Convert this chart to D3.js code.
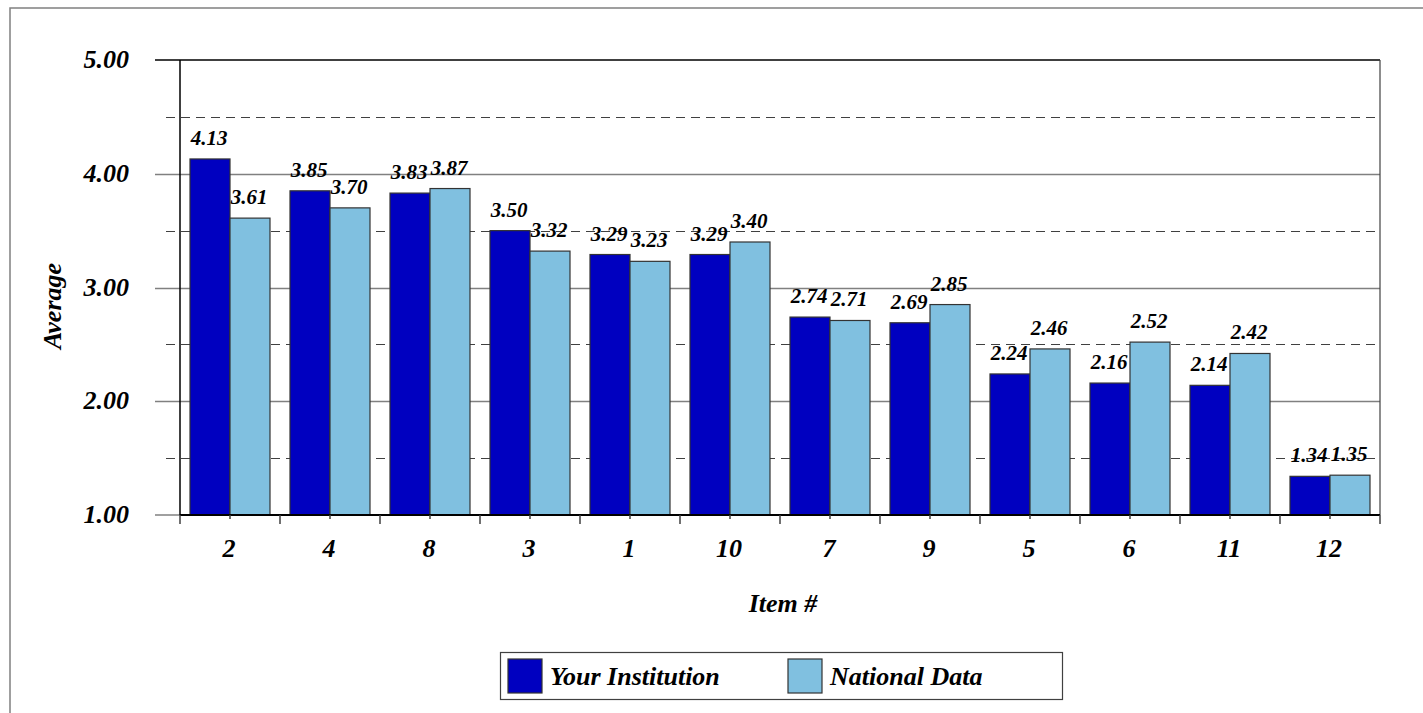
<!DOCTYPE html>
<html><head><meta charset="utf-8">
<script src="https://cdn.jsdelivr.net/npm/d3@7"></script>
<style>
body{margin:0;background:#fff;}
text{font-family:"Liberation Serif","Times New Roman",Times,serif;font-weight:bold;font-style:italic;fill:#000;}
</style></head>
<body>
<svg id="chart" width="1423" height="713"></svg>
<script>
const categories = ["2","4","8","3","1","10","7","9","5","6","11","12"];
const yourInstitution = [4.13,3.85,3.83,3.50,3.29,3.29,2.74,2.69,2.24,2.16,2.14,1.34];
const nationalData = [3.61,3.70,3.87,3.32,3.23,3.40,2.71,2.85,2.46,2.52,2.42,1.35];
const seriesNames = ["Your Institution","National Data"];
const seriesColors = ["#0000C0","#80C0E0"];
const majorTicks = [1,2,3,4,5];
const minorTicks = [1.5,2.5,3.5,4.5];

const svg = d3.select("#chart");
const L = 180, R = 1380, T = 60, B = 515;

// outer frame
svg.append("rect").attr("x",10).attr("y",8).attr("width",1430).attr("height",720)
  .attr("fill","none").attr("stroke","#808080").attr("stroke-width",1.5);

const x = d3.scaleBand().domain(categories).range([L,R]).paddingInner(0).paddingOuter(0);
const xs = d3.scaleBand().domain(seriesNames).range([10,90]);
const y = d3.scaleLinear().domain([1,5]).range([B,T]);

// gridlines
svg.append("g").selectAll("line").data(majorTicks.filter(d=>d>1 && d<5)).join("line")
  .attr("x1",155).attr("x2",R).attr("y1",d=>Math.round(y(d))+0.5).attr("y2",d=>Math.round(y(d))+0.5)
  .attr("stroke","#808080").attr("stroke-width",1.5);
svg.append("g").selectAll("line").data(minorTicks).join("line")
  .attr("x1",166).attr("x2",R).attr("y1",d=>Math.round(y(d))+0.5).attr("y2",d=>Math.round(y(d))+0.5)
  .attr("stroke","#404040").attr("stroke-width",1.2).attr("stroke-dasharray","9,6");
svg.append("line").attr("x1",155).attr("x2",L).attr("y1",B).attr("y2",B).attr("stroke","#808080").attr("stroke-width",1.5);
svg.append("line").attr("x1",155).attr("x2",R).attr("y1",T).attr("y2",T).attr("stroke","#000").attr("stroke-width",1.5);
svg.append("line").attr("x1",R).attr("x2",R).attr("y1",T).attr("y2",B).attr("stroke","#404040").attr("stroke-width",1.2);

// bars
const data = categories.map((c,i)=>({cat:c, vals:[yourInstitution[i], nationalData[i]]}));
const groups = svg.append("g").selectAll("g").data(data).join("g")
  .attr("transform",d=>`translate(${x(d.cat)},0)`);
groups.selectAll("rect").data(d=>d.vals.map((v,j)=>({v,j}))).join("rect")
  .attr("x",d=>xs(seriesNames[d.j])).attr("width",xs.bandwidth())
  .attr("y",d=>y(d.v)).attr("height",d=>B-y(d.v))
  .attr("fill",d=>seriesColors[d.j]).attr("stroke","#333").attr("stroke-width",1.2);
groups.selectAll("text").data(d=>d.vals.map((v,j)=>({v,j}))).join("text")
  .attr("x",d=>xs(seriesNames[d.j])+xs.bandwidth()/2-1).attr("y",d=>y(d.v)-14)
  .attr("text-anchor","middle").style("font-size","21px")
  .text(d=>d.v.toFixed(2));

// axes lines
svg.append("line").attr("x1",L).attr("x2",L).attr("y1",T).attr("y2",B).attr("stroke","#000").attr("stroke-width",1.5);
svg.append("line").attr("x1",L).attr("x2",R).attr("y1",B).attr("y2",B).attr("stroke","#000").attr("stroke-width",2);

// x ticks
const bounds = categories.map(c=>x(c)).concat([R]);
svg.append("g").selectAll("line").data(bounds).join("line")
  .attr("x1",d=>d).attr("x2",d=>d).attr("y1",B).attr("y2",B+9).attr("stroke","#404040").attr("stroke-width",1.5);
svg.append("g").selectAll("line").data(categories).join("line")
  .attr("x1",d=>x(d)+x.bandwidth()/2).attr("x2",d=>x(d)+x.bandwidth()/2).attr("y1",B).attr("y2",B+4).attr("stroke","#404040").attr("stroke-width",1.5);

// y tick labels
svg.append("g").selectAll("text").data(majorTicks).join("text")
  .attr("x",129).attr("y",d=>y(d)+8).attr("text-anchor","end").style("font-size","26px")
  .text(d=>d.toFixed(2));

// x labels
svg.append("g").selectAll("text").data(categories).join("text")
  .attr("x",d=>x(d)+x.bandwidth()/2-1).attr("y",557).attr("text-anchor","middle").style("font-size","26px")
  .text(d=>d);

// titles
svg.append("text").attr("x",783).attr("y",612).attr("text-anchor","middle").style("font-size","26px").text("Item #");
svg.append("text").attr("transform","translate(61,306) rotate(-90)").attr("text-anchor","middle").style("font-size","26px").text("Average");

// legend
const lg = svg.append("g");
lg.append("rect").attr("x",500.5).attr("y",652.5).attr("width",562).attr("height",47)
  .attr("fill","#fff").attr("stroke","#404040").attr("stroke-width",1.2);
const legX = [508, 788];
seriesNames.forEach((s,i)=>{
  lg.append("rect").attr("x",legX[i]).attr("y",659).attr("width",34).attr("height",34)
    .attr("fill",seriesColors[i]).attr("stroke","#333").attr("stroke-width",1.2);
  lg.append("text").attr("x",legX[i]+42).attr("y",685).style("font-size","26px").text(s);
});
</script>
</body></html>
